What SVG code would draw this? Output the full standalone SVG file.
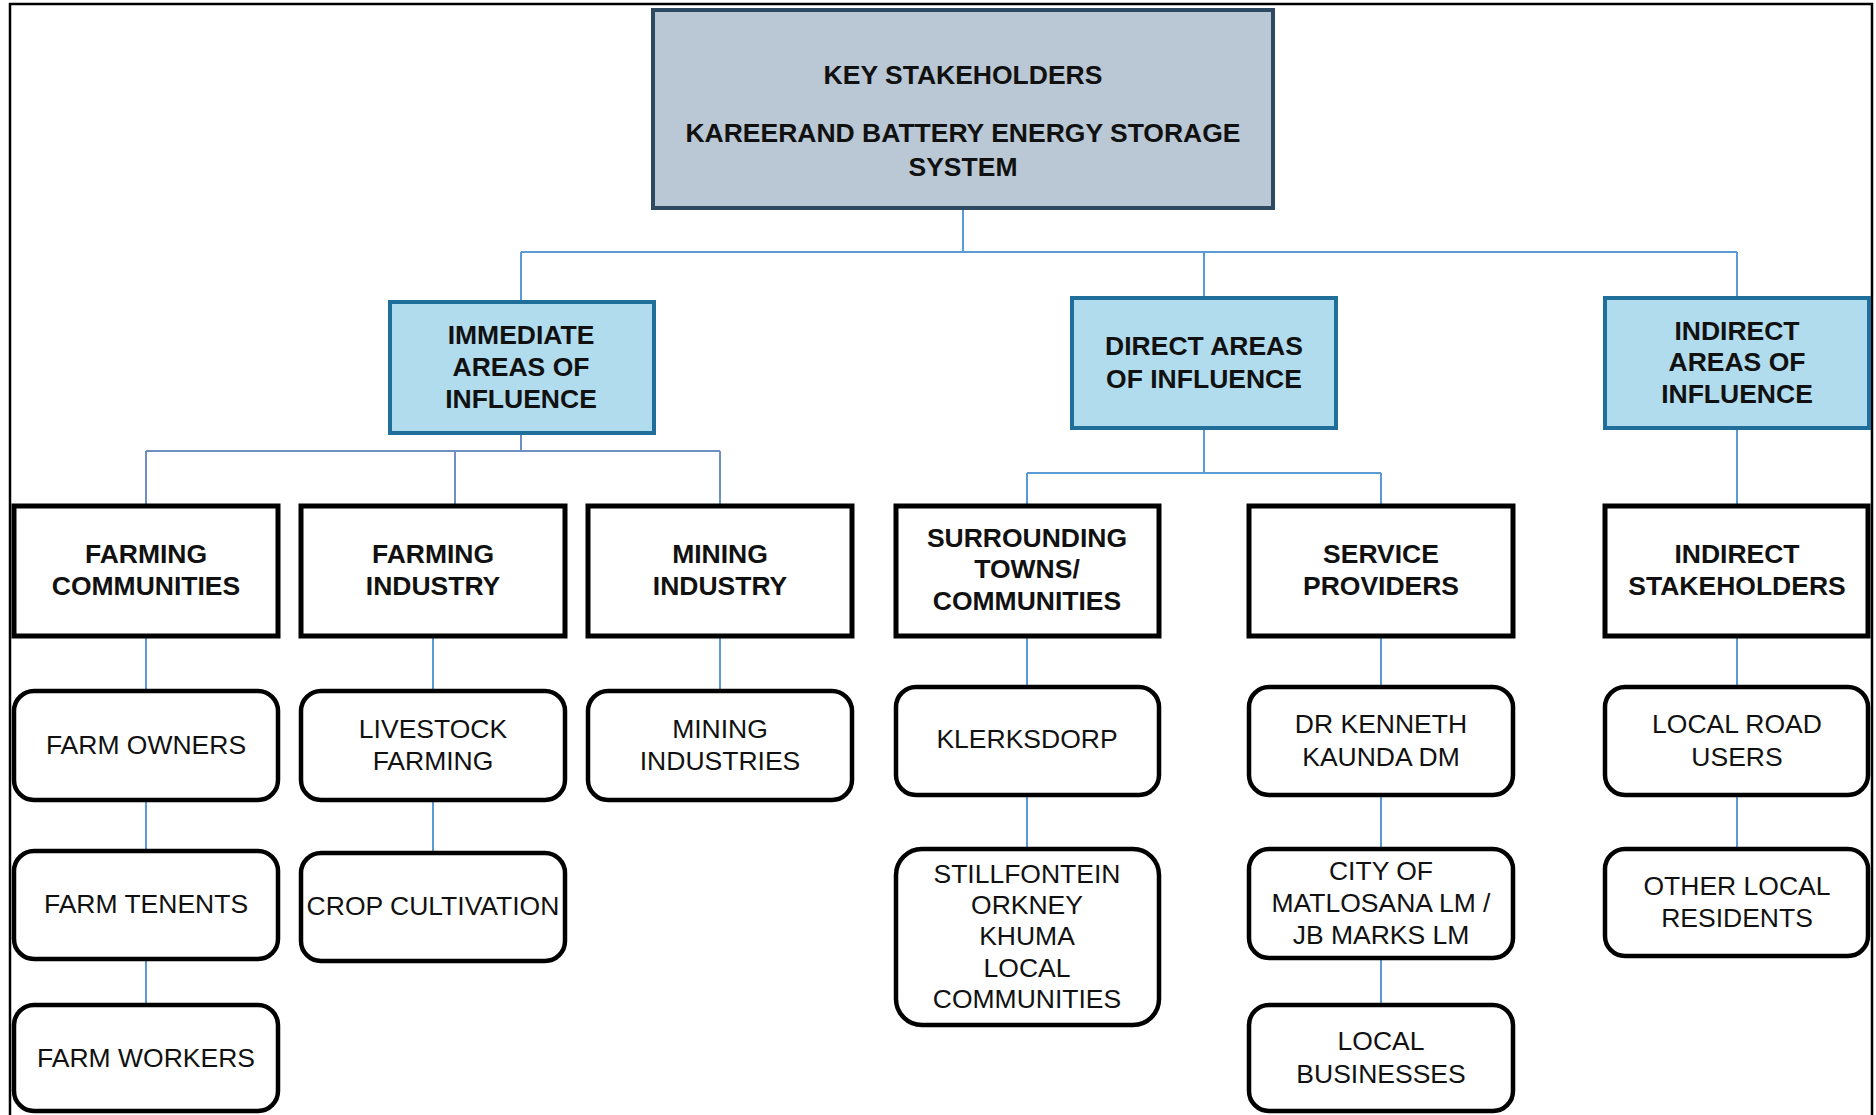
<svg xmlns="http://www.w3.org/2000/svg" width="1876" height="1115" viewBox="0 0 1876 1115">
  <style>
    .bold { font-family: "Liberation Sans", Arial, sans-serif; font-weight: bold; font-size: 26.5px; fill: #111; text-anchor: middle; }
    .reg { font-family: "Liberation Sans", Arial, sans-serif; font-size: 26.5px; fill: #111; text-anchor: middle; }
    .root { fill: #b9c8d4; stroke: #2e4a62; stroke-width: 4; }
    .area { fill: #b0dcee; stroke: #1f6f9a; stroke-width: 4; }
    .group { fill: #fff; stroke: #000; stroke-width: 5; }
    .leaf { fill: #fff; stroke: #000; stroke-width: 4.5; }
    .link { stroke: #5b9bd5; stroke-width: 2; fill: none; }
    .link2 { stroke: #6f8fc2; stroke-width: 2; fill: none; }
  </style>
  <rect width="1876" height="1115" fill="#fff"/>
  <!-- outer frame -->
  <path d="M10,1115 V4 H1872 V1115" fill="none" stroke="#000" stroke-width="2.5"/>

  <g id="connectors">
    <path class="link" d="M963,210 V252 M521,252 H1737 M521,252 V300 M1204,252 V296 M1737,252 V296"/>
    <path class="link2" d="M521,435 V451 M146,451 H720 M146,451 V504 M455,451 V504 M720,451 V504"/>
    <path class="link" d="M1204,430 V473 M1027,473 H1381 M1027,473 V504 M1381,473 V504 M1737,430 V504"/>
    <path class="link" d="M146,638 V689 M146,802 V849 M146,961 V1003"/>
    <path class="link" d="M433,638 V689 M433,802 V851"/>
    <path class="link" d="M720,638 V689"/>
    <path class="link" d="M1027,638 V685 M1027,797 V847"/>
    <path class="link" d="M1381,638 V685 M1381,797 V847 M1381,960 V1003"/>
    <path class="link" d="M1737,638 V685 M1737,797 V847"/>
  </g>

  <g id="key-stakeholders">
    <rect class="root" x="653" y="10" width="620" height="198"/>
    <text class="bold" x="963" y="84">KEY STAKEHOLDERS</text>
    <text class="bold" x="963" y="142">KAREERAND BATTERY ENERGY STORAGE</text>
    <text class="bold" x="963" y="176">SYSTEM</text>
  </g>

  <g id="immediate-areas">
    <rect class="area" x="390" y="302" width="264" height="131"/>
    <text class="bold" x="521" y="344">IMMEDIATE</text>
    <text class="bold" x="521" y="376">AREAS OF</text>
    <text class="bold" x="521" y="408">INFLUENCE</text>
  </g>
  <g id="direct-areas">
    <rect class="area" x="1072" y="298" width="264" height="130"/>
    <text class="bold" x="1204" y="355">DIRECT AREAS</text>
    <text class="bold" x="1204" y="388">OF INFLUENCE</text>
  </g>
  <g id="indirect-areas">
    <rect class="area" x="1605" y="298" width="264" height="130"/>
    <text class="bold" x="1737" y="340">INDIRECT</text>
    <text class="bold" x="1737" y="371">AREAS OF</text>
    <text class="bold" x="1737" y="403">INFLUENCE</text>
  </g>

  <g id="farming-communities">
    <rect class="group" x="14" y="506" width="264" height="130"/>
    <text class="bold" x="146" y="563">FARMING</text>
    <text class="bold" x="146" y="595">COMMUNITIES</text>
  </g>
  <g id="farming-industry">
    <rect class="group" x="301" y="506" width="264" height="130"/>
    <text class="bold" x="433" y="563">FARMING</text>
    <text class="bold" x="433" y="595">INDUSTRY</text>
  </g>
  <g id="mining-industry">
    <rect class="group" x="588" y="506" width="264" height="130"/>
    <text class="bold" x="720" y="563">MINING</text>
    <text class="bold" x="720" y="595">INDUSTRY</text>
  </g>
  <g id="surrounding-towns">
    <rect class="group" x="896" y="506" width="263" height="130"/>
    <text class="bold" x="1027" y="547">SURROUNDING</text>
    <text class="bold" x="1027" y="578">TOWNS/</text>
    <text class="bold" x="1027" y="610">COMMUNITIES</text>
  </g>
  <g id="service-providers">
    <rect class="group" x="1249" y="506" width="264" height="130"/>
    <text class="bold" x="1381" y="563">SERVICE</text>
    <text class="bold" x="1381" y="595">PROVIDERS</text>
  </g>
  <g id="indirect-stakeholders">
    <rect class="group" x="1605" y="506" width="263" height="130"/>
    <text class="bold" x="1737" y="563">INDIRECT</text>
    <text class="bold" x="1737" y="595">STAKEHOLDERS</text>
  </g>

  <g id="farm-owners">
    <rect class="leaf" x="14" y="691" width="264" height="109" rx="20"/>
    <text class="reg" x="146" y="754">FARM OWNERS</text>
  </g>
  <g id="farm-tenents">
    <rect class="leaf" x="14" y="851" width="264" height="108" rx="20"/>
    <text class="reg" x="146" y="913">FARM TENENTS</text>
  </g>
  <g id="farm-workers">
    <rect class="leaf" x="14" y="1005" width="264" height="106" rx="20"/>
    <text class="reg" x="146" y="1067">FARM WORKERS</text>
  </g>
  <g id="livestock-farming">
    <rect class="leaf" x="301" y="691" width="264" height="109" rx="20"/>
    <text class="reg" x="433" y="738">LIVESTOCK</text>
    <text class="reg" x="433" y="770">FARMING</text>
  </g>
  <g id="crop-cultivation">
    <rect class="leaf" x="301" y="853" width="264" height="108" rx="20"/>
    <text class="reg" x="433" y="915">CROP CULTIVATION</text>
  </g>
  <g id="mining-industries">
    <rect class="leaf" x="588" y="691" width="264" height="109" rx="20"/>
    <text class="reg" x="720" y="738">MINING</text>
    <text class="reg" x="720" y="770">INDUSTRIES</text>
  </g>
  <g id="klerksdorp">
    <rect class="leaf" x="896" y="687" width="263" height="108" rx="20"/>
    <text class="reg" x="1027" y="748">KLERKSDORP</text>
  </g>
  <g id="local-communities">
    <rect class="leaf" x="896" y="849" width="263" height="176" rx="26"/>
    <text class="reg" x="1027" y="883">STILLFONTEIN</text>
    <text class="reg" x="1027" y="914">ORKNEY</text>
    <text class="reg" x="1027" y="945">KHUMA</text>
    <text class="reg" x="1027" y="977">LOCAL</text>
    <text class="reg" x="1027" y="1008">COMMUNITIES</text>
  </g>
  <g id="kenneth-kaunda-dm">
    <rect class="leaf" x="1249" y="687" width="264" height="108" rx="20"/>
    <text class="reg" x="1381" y="733">DR KENNETH</text>
    <text class="reg" x="1381" y="766">KAUNDA DM</text>
  </g>
  <g id="matlosana-jb-marks">
    <rect class="leaf" x="1249" y="849" width="264" height="109" rx="20"/>
    <text class="reg" x="1381" y="880">CITY OF</text>
    <text class="reg" x="1381" y="912">MATLOSANA LM /</text>
    <text class="reg" x="1381" y="944">JB MARKS LM</text>
  </g>
  <g id="local-businesses">
    <rect class="leaf" x="1249" y="1005" width="264" height="106" rx="20"/>
    <text class="reg" x="1381" y="1050">LOCAL</text>
    <text class="reg" x="1381" y="1083">BUSINESSES</text>
  </g>
  <g id="local-road-users">
    <rect class="leaf" x="1605" y="687" width="263" height="108" rx="20"/>
    <text class="reg" x="1737" y="733">LOCAL ROAD</text>
    <text class="reg" x="1737" y="766">USERS</text>
  </g>
  <g id="other-local-residents">
    <rect class="leaf" x="1605" y="849" width="263" height="107" rx="20"/>
    <text class="reg" x="1737" y="895">OTHER LOCAL</text>
    <text class="reg" x="1737" y="927">RESIDENTS</text>
  </g>
</svg>
